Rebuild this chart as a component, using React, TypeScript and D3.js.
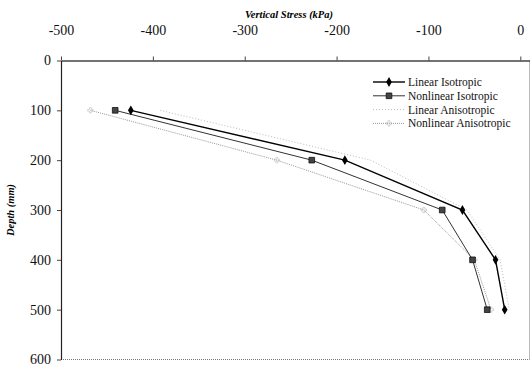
import React, { useEffect, useRef } from "react";
import * as d3 from "d3";

const depths = [100, 200, 300, 400, 500];
const linearIso = [-424, -191, -63, -27, -17];
const nonlinearIso = [-441, -227, -85, -52, -36];
const linearAniso = [-392, -163, -58, -22, -12];
const nonlinearAniso = [-468, -265, -105, -50, -32];
const xTicks = [-500, -400, -300, -200, -100, 0];
const yTicks = [0, 100, 200, 300, 400, 500, 600];

const series = [
  { name: "Linear Isotropic", values: linearIso, color: "#000", width: 1.4, dash: null, marker: "diamond" },
  { name: "Nonlinear Isotropic", values: nonlinearIso, color: "#333", width: 1, dash: null, marker: "square" },
  { name: "Linear Anisotropic", values: linearAniso, color: "#bbb", width: 1, dash: "1,2", marker: "none" },
  { name: "Nonlinear Anisotropic", values: nonlinearAniso, color: "#999", width: 1, dash: "1,1", marker: "cross" },
];

export default function App() {
  const ref = useRef<SVGSVGElement>(null);

  useEffect(() => {
    const svg = d3.select(ref.current);
    svg.selectAll("*").remove();
    const font = "Liberation Serif";

    const x = d3.scaleLinear().domain([-500, 10]).range([61, 529.5]);
    const y = d3.scaleLinear().domain([0, 600]).range([60.5, 359.5]);

    // plot border (right + bottom dotted)
    svg.append("line").attr("x1", x(10)).attr("x2", x(10)).attr("y1", y(0)).attr("y2", y(600))
      .attr("stroke", "#777").attr("stroke-dasharray", "1,1");
    svg.append("line").attr("x1", x(-500)).attr("x2", x(10)).attr("y1", y(600)).attr("y2", y(600))
      .attr("stroke", "#777").attr("stroke-dasharray", "1,1");

    // top axis
    const xAxis = svg.append("g").attr("transform", `translate(0,${y(0)})`)
      .call(d3.axisTop(x).tickValues(xTicks).tickSize(4).tickSizeOuter(0).tickFormat(d3.format("d")));
    xAxis.attr("font-family", font).attr("font-size", 14);
    xAxis.select(".domain").attr("stroke", "#444").attr("stroke-width", 1.6);
    xAxis.selectAll(".tick line").attr("stroke", "#444");
    xAxis.selectAll("text").attr("y", -26).attr("fill", "#111");
    xAxis.selectAll(".tick text").text((d: any) => (d < 0 ? "-" + Math.abs(d) : String(d)));

    // left axis
    const yAxis = svg.append("g").attr("transform", `translate(${x(-500)},0)`)
      .call(d3.axisLeft(y).tickValues(yTicks).tickSize(4).tickSizeOuter(0));
    yAxis.attr("font-family", font).attr("font-size", 14);
    yAxis.select(".domain").attr("stroke", "#222").attr("stroke-width", 1.2);
    yAxis.selectAll(".tick line").attr("stroke", "#444");
    yAxis.selectAll("text").attr("x", -10).attr("fill", "#111");

    // titles
    svg.append("text").attr("x", 289).attr("y", 18).attr("text-anchor", "middle")
      .attr("font-family", font).attr("font-size", 10.5).attr("font-weight", "bold").attr("font-style", "italic")
      .text("Vertical Stress (kPa)");
    svg.append("text").attr("transform", `translate(14,${(y(0) + y(600)) / 2}) rotate(-90)`)
      .attr("text-anchor", "middle")
      .attr("font-family", font).attr("font-size", 10.5).attr("font-weight", "bold").attr("font-style", "italic")
      .text("Depth (mm)");

    const line = d3.line<number>().x((d) => x(d)).y((d, i) => y(depths[i]));

    const drawMarker = (g: any, type: string, cx: number, cy: number) => {
      if (type === "diamond") {
        g.append("path").attr("d", d3.symbol(d3.symbolDiamond, 28)()).attr("transform", `translate(${cx},${cy})`).attr("fill", "#000");
      } else if (type === "square") {
        g.append("path").attr("d", d3.symbol(d3.symbolSquare, 32)()).attr("transform", `translate(${cx},${cy})`)
          .attr("fill", "#444").attr("stroke", "#111").attr("stroke-width", 0.8);
      } else if (type === "cross") {
        g.append("path").attr("d", d3.symbol(d3.symbolCross, 16)()).attr("transform", `translate(${cx},${cy})`)
          .attr("fill", "none").attr("stroke", "#bbb").attr("stroke-width", 0.6);
      }
    };

    // draw back to front
    [...series].reverse().forEach((s) => {
      const g = svg.append("g");
      g.append("path").attr("d", line(s.values)).attr("fill", "none").attr("stroke", s.color)
        .attr("stroke-width", s.width).attr("stroke-dasharray", s.dash);
      s.values.forEach((v, i) => drawMarker(g, s.marker, x(v), y(depths[i])));
    });

    // legend
    const legend = svg.append("g").attr("font-family", font).attr("font-size", 11.5);
    series.forEach((s, i) => {
      const ly = 82 + i * 13.8;
      legend.append("line").attr("x1", 373).attr("x2", 405).attr("y1", ly).attr("y2", ly)
        .attr("stroke", s.color).attr("stroke-width", s.width).attr("stroke-dasharray", s.dash);
      drawMarker(legend, s.marker, 389, ly);
      legend.append("text").attr("x", 408).attr("y", ly + 4).attr("fill", "#111").text(s.name);
    });
  }, []);

  return (
    <svg ref={ref} width={532} height={366} style={{ position: "absolute", left: 0, top: 0, background: "#fff" }} />
  );
}
